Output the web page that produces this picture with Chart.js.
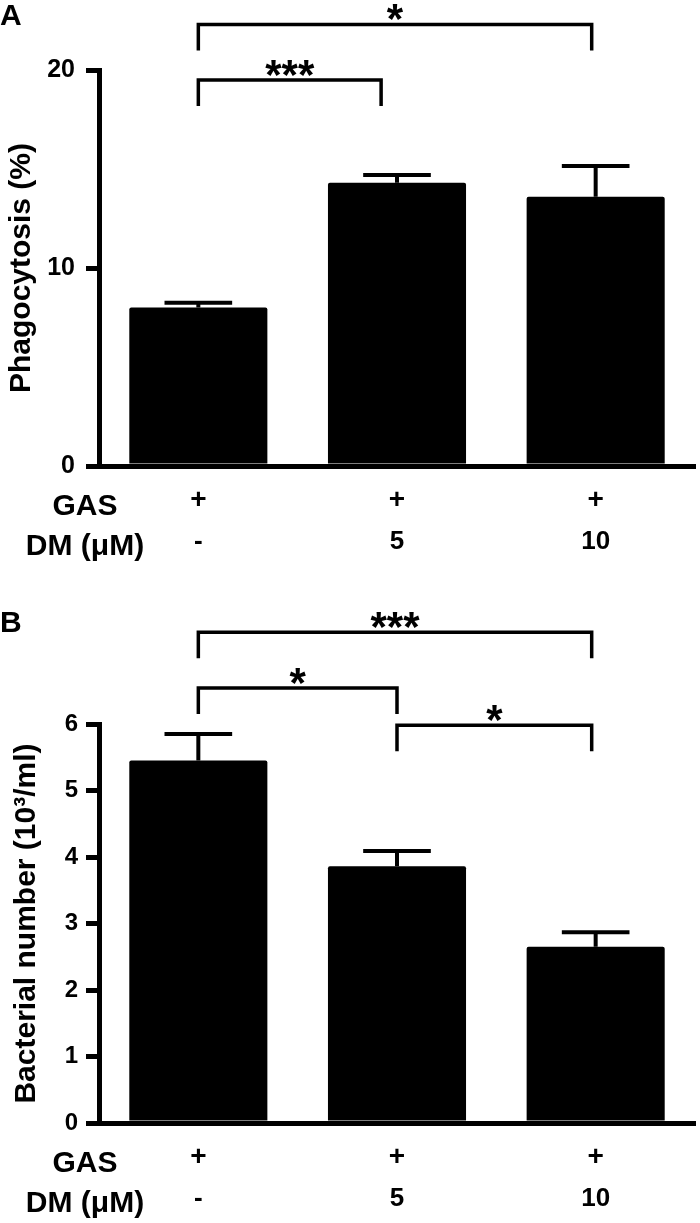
<!DOCTYPE html>
<html lang="en">
<head>
    <meta charset="UTF-8">
    <title>Phagocytosis and bacterial number</title>
    <script src="https://cdn.jsdelivr.net/npm/chart.js@4.4.1/dist/chart.umd.min.js"></script>
    <style>
        body { margin: 0; background: #fff; }
        canvas { position: absolute; left: 0; }
        #chartA { top: 0; }
        #chartB { top: 580px; }
    </style>
</head>
<body>

<canvas id="chartA" width="700" height="580"></canvas>
<canvas id="chartB" width="700" height="643"></canvas>

<script>
    // groups (one bar each)
    var categories = ['GAS', 'GAS + DM 5', 'GAS + DM 10'];
    var gasRow = ['+', '+', '+'];
    var dmRow = ['-', '5', '10'];

    // panel A - phagocytosis (%)
    var phagoMean = [8.0, 14.3, 13.6];
    var phagoErr = [0.25, 0.4, 1.55];
    var phagoTicks = [0, 10, 20];
    // [from bar, to bar, height, label]
    var phagoBrackets = [
        [0, 0.92, 19.5, '***'],
        [0, 1.98, 22.3, '*']
    ];

    // panel B - bacterial number (10^3/ml)
    var bactMean = [5.45, 3.86, 2.65];
    var bactErr = [0.4, 0.23, 0.22];
    var bactTicks = [0, 1, 2, 3, 4, 5, 6];
    var bactBrackets = [
        [0, 1.98, 7.38, '***'],
        [0, 1, 6.54, '*'],
        [1, 1.98, 5.98, '*']
    ];

    var FONT = 'Liberation Sans, Arial, sans-serif';
    Chart.defaults.font.family = FONT;
    Chart.defaults.color = '#000';

    var errorBars = {
        id: 'errorBars',
        afterDatasetsDraw: function (chart, args, opts) {
            var ctx = chart.ctx;
            var y = chart.scales.y;
            var meta = chart.getDatasetMeta(0);
            ctx.save();
            ctx.strokeStyle = '#000';
            ctx.lineWidth = 4;
            meta.data.forEach(function (bar, i) {
                var top = y.getPixelForValue(opts.means[i] + opts.errs[i]);
                var half = bar.width * 0.245;
                ctx.beginPath();
                ctx.moveTo(bar.x, bar.y);
                ctx.lineTo(bar.x, top);
                ctx.moveTo(bar.x - half, top);
                ctx.lineTo(bar.x + half, top);
                ctx.stroke();
            });
            ctx.restore();
        }
    };

    var extras = {
        id: 'extras',
        afterDraw: function (chart, args, opts) {
            var ctx = chart.ctx;
            var x = chart.scales.x;
            var y = chart.scales.y;
            var area = chart.chartArea;
            ctx.save();
            ctx.fillStyle = '#000';
            ctx.strokeStyle = '#000';

            // panel letter
            ctx.font = 'bold 30px ' + FONT;
            ctx.textAlign = 'left';
            ctx.textBaseline = 'alphabetic';
            ctx.fillText(opts.letter, 0, opts.letterY);

            // significance brackets
            ctx.lineWidth = 3.5;
            ctx.lineJoin = 'miter';
            opts.brackets.forEach(function (b) {
                var x1 = x.getPixelForValue(b[0]);
                var x2 = x.getPixelForValue(b[1]);
                var yy = y.getPixelForValue(b[2]);
                ctx.beginPath();
                ctx.moveTo(x1, yy + 26);
                ctx.lineTo(x1, yy);
                ctx.lineTo(x2, yy);
                ctx.lineTo(x2, yy + 26);
                ctx.stroke();
                ctx.font = 'bold 42px ' + FONT;
                ctx.textAlign = 'center';
                var m = ctx.measureText(b[3]);
                ctx.fillText(b[3], (x1 + x2) / 2, yy - 4 - m.actualBoundingBoxDescent);
            });

            // condition rows under the axis
            var meta = chart.getDatasetMeta(0);
            var labelX = area.left - 14;
            ctx.textAlign = 'center';
            ctx.font = 'bold 30px ' + FONT;
            ctx.fillText('GAS', labelX, area.bottom + 49);
            ctx.fillText('DM (\u03bcM)', labelX, area.bottom + 89);
            meta.data.forEach(function (bar, i) {
                ctx.font = 'bold 28px ' + FONT;
                ctx.fillText(gasRow[i], bar.x, area.bottom + 42);
                ctx.font = 'bold 26px ' + FONT;
                ctx.fillText(dmRow[i], bar.x, area.bottom + 83);
            });
            ctx.restore();
        }
    };

    function makePanel(id, means, errs, tickValues, brackets, title, cfg) {
        var ctx = document.getElementById(id).getContext('2d');
        return new Chart(ctx, {
            type: 'bar',
            data: {
                labels: categories,
                datasets: [{
                    data: means,
                    backgroundColor: '#000',
                    borderWidth: 0,
                    borderRadius: 2,
                    barPercentage: 0.695,
                    categoryPercentage: 1
                }]
            },
            options: {
                responsive: false,
                animation: false,
                layout: { padding: { top: cfg.top, bottom: cfg.bottom, left: 0, right: 5 } },
                scales: {
                    x: {
                        grid: { display: false, drawTicks: false },
                        ticks: { display: false },
                        border: { display: true, color: '#000', width: 5 },
                        afterFit: function (s) { s.height = 0; }
                    },
                    y: {
                        min: tickValues[0],
                        max: tickValues[tickValues.length - 1],
                        afterBuildTicks: function (s) {
                            s.ticks = tickValues.map(function (v) { return { value: v }; });
                        },
                        afterFit: function (s) { s.width = 99; },
                        grid: {
                            drawOnChartArea: false,
                            drawTicks: true,
                            tickLength: 13,
                            lineWidth: 5,
                            color: '#000'
                        },
                        border: { display: true, color: '#000', width: 5 },
                        ticks: {
                            font: { size: cfg.tickSize, weight: 'bold' },
                            color: '#000',
                            padding: cfg.tickPad
                        },
                        title: {
                            display: true,
                            text: title,
                            color: '#000',
                            font: { size: 30, weight: 'bold' },
                            padding: { top: cfg.titlePad, bottom: 0 }
                        }
                    }
                },
                plugins: {
                    legend: { display: false },
                    tooltip: { enabled: false },
                    errorBars: { means: means, errs: errs },
                    extras: { letter: cfg.letter, letterY: cfg.letterY, brackets: brackets }
                }
            },
            plugins: [errorBars, extras]
        });
    }

    makePanel('chartA', phagoMean, phagoErr, phagoTicks, phagoBrackets, 'Phagocytosis (%)',
        { top: 70, bottom: 114, tickSize: 25, tickPad: 11, titlePad: 4, letter: 'A', letterY: 25 });

    makePanel('chartB', bactMean, bactErr, bactTicks, bactBrackets, 'Bacterial number (10\u00b3/ml)',
        { top: 144, bottom: 100, tickSize: 24, tickPad: 8, titlePad: 9, letter: 'B', letterY: 52 });
</script>

</body>
</html>
